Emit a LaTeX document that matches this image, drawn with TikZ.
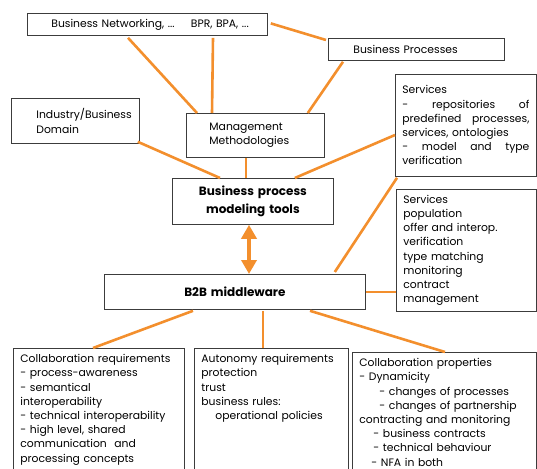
\documentclass[tikz,border=0pt]{standalone}
\usepackage{fontspec}
\setmainfont{Poppins}
\usetikzlibrary{calc}
\usetikzlibrary{positioning}
\usetikzlibrary{arrows.meta}
\definecolor{linkorange}{RGB}{243,143,45}
\definecolor{boxgray}{RGB}{60,60,60}
\tikzstyle{box} = [draw=boxgray, line width=0.8pt, rectangle, fill=white, anchor=north west, inner xsep=7pt, inner ysep=0pt, align=left, font=\fontsize{10.8}{14.2}\selectfont]
\tikzstyle{toolbox} = [box, align=center, font=\fontsize{12}{18}\selectfont\bfseries]
\tikzstyle{tallbox} = [box, inner ysep=6pt, text depth=118pt]
\tikzstyle{link} = [draw=linkorange, line width=2.6pt]
\tikzstyle{bothway} = [draw=linkorange, line width=4pt, {Triangle[width=15pt,length=14pt]}-{Triangle[width=15pt,length=14pt]}]

\begin{document}
\begin{tikzpicture}[x=1pt,y=-1pt]
\useasboundingbox (0,0) rectangle (537,468);
\clip (0,0) rectangle (537,468);
% upper boxes
\node[box, text width=226pt, minimum height=22pt] (netw) at (27,13) {\hspace*{17pt}Business Networking, ...\hspace{1.5em}BPR, BPA, ...};
\node[box, text width=162pt, minimum height=22pt] (proc) at (328,38) {\hspace*{18pt}Business Processes};
\node[box, text width=114pt, minimum height=45pt] (indus) at (11,98) {\hspace*{18pt}Industry/Business\\\hspace*{18pt}Domain};
\node[box, text width=124pt, minimum height=44pt] (mgmt) at (186,113) {\hspace*{16pt}Management\\\hspace*{16pt}Methodologies};
\node[box, text width=127pt, minimum height=102pt] (serv1) at (395,74) {Services\\
    \makebox[\hsize][l]{-\hfill repositories\hfill of}\\
    \makebox[\hsize][l]{predefined\hfill processes,}\\
    services, ontologies\\
    \makebox[\hsize][l]{-\hfill model\hfill and\hfill type}\\
    verification};
\node[toolbox, text width=147pt, minimum height=46pt] (tools) at (172,178) {Business process\\modeling tools};
\node[box, text width=126pt, minimum height=122pt] (serv2) at (396,189) {Services\\population\\offer and interop.\\verification\\type matching\\monitoring\\contract\\management};
\node[toolbox, text width=247pt, minimum height=35pt] (b2b) at (104,274) {B2B middleware};

% lower boxes
\node[tallbox, text width=157pt] (collreq) at (13,348) {Collaboration requirements\\
    - process-awareness\\
    - semantical\\
    interoperability\\
    - technical interoperability\\
    - high level, shared\\
    communication\hspace{0.7em}and\\
    processing concepts};
\node[tallbox, text width=140pt] (autreq) at (194,348) {Autonomy requirements\\
    protection\\
    trust\\
    business rules:\\
    \hspace*{14pt}operational policies};
\node[tallbox, text width=170pt] (collprop) at (352,352) {Collaboration properties\\
    - Dynamicity\\
    \hspace*{20pt}- changes of processes\\
    \hspace*{20pt}- changes of partnership\\
    contracting and monitoring\\
    \hspace*{14pt}- business contracts\\
    \hspace*{14pt}- technical behaviour\\
    \hspace*{12pt}- NFA in both};

% connectors
\draw[link] ($(netw.south west)+(101,2)$) -- ($(mgmt.north west)+(11,0)$);
\draw[link] ($(netw.south west)+(186,2)$) -- ($(mgmt.north west)+(26,0)$);
\draw[link] ($(netw.east)+(3,-1)$) -- ($(proc.north west)+(-2,2)$);
\draw[link] ($(proc.south west)+(15,1)$) -- ($(mgmt.north east)+(-17,0)$);
\draw[link] ($(indus.south east)+(-2,-2)$) -- ($(tools.north west)+(48,0)$);
\draw[link] ($(mgmt.south west)+(60,0)$) -- ($(tools.north west)+(74,0)$);
\draw[link] ($(serv1.north west)+(0,61)$) -- ($(tools.north east)+(-39,0)$);
\draw[link] ($(serv1.south west)+(2,1)$) -- ($(b2b.north east)+(-31,-2)$);
\draw[link] (b2b.east) -- (b2b.east -| serv2.west);
\draw[bothway] ($(tools.south west)+(77,0)$) -- ($(b2b.north west)+(145,0)$);
\draw[link] ($(b2b.south west)+(89,1)$) -- ($(collreq.north west)+(80,0)$);
\draw[link] ($(b2b.south west)+(159,1)$) -- ($(autreq.north west)+(69,0)$);
\draw[link] ($(b2b.south west)+(206,1)$) -- ($(collprop.north west)+(93,0)$);
\end{tikzpicture}
\end{document}
